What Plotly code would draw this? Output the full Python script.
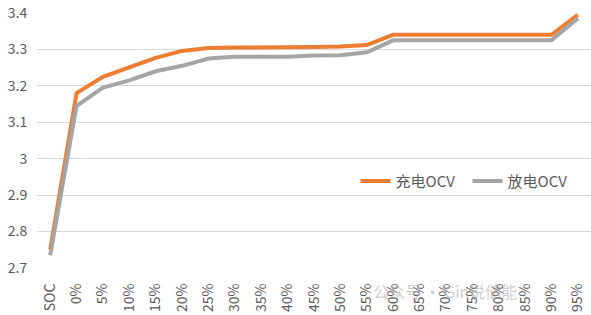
import plotly.graph_objects as go

categories = ["SOC", "0%", "5%", "10%", "15%", "20%", "25%", "30%", "35%", "40%", "45%",
              "50%", "55%", "60%", "65%", "70%", "75%", "80%", "85%", "90%", "95%"]
charge_ocv = [2.75, 3.18, 3.225, 3.25, 3.277, 3.296, 3.304, 3.305, 3.305, 3.305, 3.307,
              3.308, 3.312, 3.34, 3.34, 3.34, 3.34, 3.34, 3.34, 3.34, 3.395]
discharge_ocv = [2.735, 3.145, 3.195, 3.215, 3.24, 3.255, 3.275, 3.28, 3.28, 3.28, 3.283,
                 3.284, 3.292, 3.325, 3.325, 3.325, 3.325, 3.325, 3.325, 3.325, 3.385]
y_ticks = [2.7, 2.8, 2.9, 3.0, 3.1, 3.2, 3.3, 3.4]
y_tick_text = ["2.7", "2.8", "2.9", "3", "3.1", "3.2", "3.3", "3.4"]

fig = go.Figure()
fig.add_trace(go.Scatter(x=categories, y=charge_ocv, mode="lines", name="充电OCV",
                         line=dict(color="#ED7D31", width=4)))
fig.add_trace(go.Scatter(x=categories, y=discharge_ocv, mode="lines", name="放电OCV",
                         line=dict(color="#A5A5A5", width=4)))

font_family = "Noto Sans CJK SC, Open Sans, sans-serif"
fig.update_layout(
    width=591, height=315,
    margin=dict(l=37, r=0, t=13, b=47, autoexpand=False),
    paper_bgcolor="white", plot_bgcolor="white",
    font=dict(family=font_family, color="#595959", size=13),
    showlegend=True,
    legend=dict(orientation="h", x=0.575, y=0.34, xanchor="left", yanchor="middle",
                bgcolor="rgba(0,0,0,0)", font=dict(size=15, color="#595959"),
                traceorder="normal", itemwidth=30, entrywidth=67),
    xaxis=dict(type="category", range=[-0.5, 20.5], tickangle=-90, showgrid=False,
               showline=False, ticks="outside", ticklen=9, tickcolor="rgba(0,0,0,0)",
               tickfont=dict(size=14, color="#595959")),
    yaxis=dict(range=[2.7, 3.4], tickvals=y_ticks, ticktext=y_tick_text,
               showgrid=True, gridcolor="#D9D9D9", gridwidth=1, zeroline=False,
               showline=False, ticks="outside", ticklen=6, tickcolor="rgba(0,0,0,0)",
               tickfont=dict(size=14, color="#595959")),
)
fig.add_annotation(text="公众号 · Gin说储能", xref="paper", yref="paper",
                   x=0.87, y=-0.145, showarrow=False,
                   font=dict(size=16, color="rgba(160,160,160,0.55)"))

fig.write_html("out.html")
